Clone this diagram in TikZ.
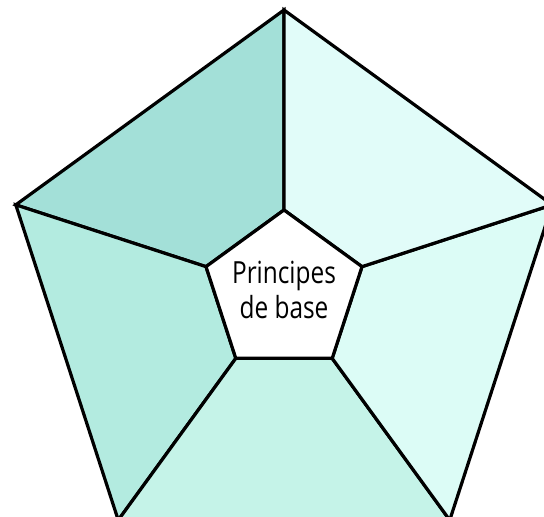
\documentclass[tikz,border=0pt]{standalone}
\usepackage{fontspec}
\newfontfamily\labelfont{Open Sans}[FakeStretch=0.8]
\definecolor{tealA}{RGB}{163,224,216}
\definecolor{tealB}{RGB}{179,235,224}
\definecolor{tealC}{RGB}{197,243,232}
\definecolor{tealD}{RGB}{220,252,246}
\definecolor{tealE}{RGB}{225,252,249}

\begin{document}
\begin{tikzpicture}[x=1pt, y=1pt, line width=3.2pt, line join=miter]
  \useasboundingbox (0,0) rectangle (544,517);
  \clip (0,0) rectangle (544,517);
  \begin{scope}[shift={(284,225)}]
    % outer sectors
    \foreach \a/\b/\c in {90/162/tealA, 162/234/tealB, 234/306/tealC, 306/378/tealD, 18/90/tealE}
      \filldraw[fill=\c] (\a:82) -- (\a:282) -- (\b:282) -- (\b:82) -- cycle;
    % inner pentagon
    \filldraw[fill=white] (90:82) -- (162:82) -- (234:82) -- (306:82) -- (18:82) -- cycle;
    \node[align=center, font=\labelfont\fontsize{30.5}{35}\selectfont] (base) at (0,2) {Principes\\de base};
  \end{scope}
\end{tikzpicture}
\end{document}
